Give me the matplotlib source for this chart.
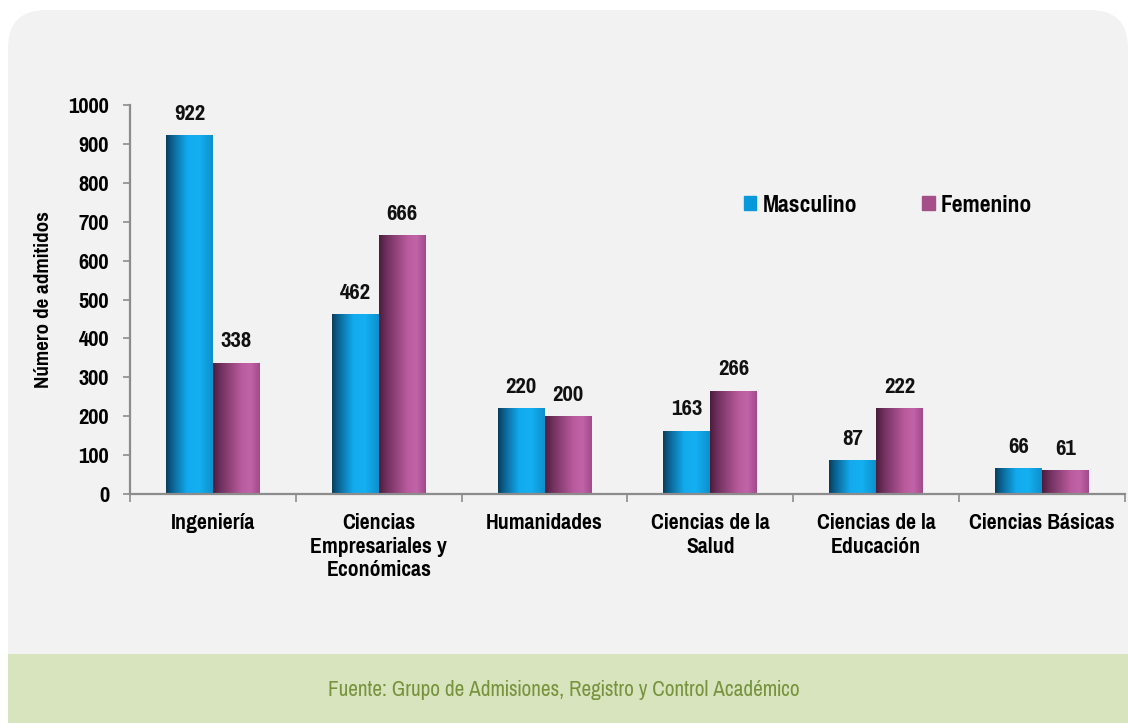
import matplotlib
matplotlib.use("Agg")
import matplotlib.pyplot as plt
import numpy as np
from matplotlib.patches import FancyBboxPatch, Rectangle, Patch
from matplotlib.colors import LinearSegmentedColormap
from matplotlib import font_manager

names = {f.name for f in font_manager.fontManager.ttflist}
FONT = 'Liberation Sans'
for cand in ('Pragati Narrow', 'PT Sans Narrow', 'Liberation Sans Narrow'):
    if cand in names:
        FONT = cand
        break
plt.rcParams['font.family'] = [FONT, 'DejaVu Sans']

categories = ["Ingeniería", "Ciencias\nEmpresariales y\nEconómicas", "Humanidades",
              "Ciencias de la\nSalud", "Ciencias de la\nEducación", "Ciencias Básicas"]
masculino = [922, 462, 220, 163, 87, 66]
femenino = [338, 666, 200, 266, 222, 61]
yticks = [0, 100, 200, 300, 400, 500, 600, 700, 800, 900, 1000]
ylabel = "Número de admitidos"
source = "Fuente: Grupo de Admisiones, Registro y Control Académico"

W, H = 1128, 723
fig = plt.figure(figsize=(W / 100, H / 100), dpi=100)
fig.patch.set_facecolor('white')

# background panels (figure pixel coords)
bg = fig.add_axes([0, 0, 1, 1])
bg.set_xlim(0, W); bg.set_ylim(H, 0); bg.axis('off')
bg.add_patch(FancyBboxPatch((8, 10), W - 8, 700, boxstyle="round,pad=0,rounding_size=38",
                            fc='#f2f2f2', ec='none'))
bg.add_patch(Rectangle((8, 654), W - 8, H - 654, fc='#d8e4bd', ec='none'))
bg.text(564, 690, source, ha='center', va='center', fontsize=16.6, color='#77933c')

# main axes
left, right, top, bottom = 130, 1125, 105, 494
ax = fig.add_axes([left / W, (H - bottom) / H, (right - left) / W, (bottom - top) / H])
ax.set_facecolor('none')
ax.set_xlim(-0.5, len(categories) - 0.5)
ax.set_ylim(0, 1000)

x = np.arange(len(categories))
bw = 0.283
b1 = ax.bar(x - bw / 2, masculino, bw, color='#0e96d4', zorder=2)
b2 = ax.bar(x + bw / 2, femenino, bw, color='#a84c90', zorder=2)

blue_cmap = LinearSegmentedColormap.from_list('b', [(0, '#0a3d5a'), (0.12, '#0b5f8c'), (0.45, '#12aaee'),
                                                    (0.7, '#14b0f2'), (1, '#0d8fcc')])
mag_cmap = LinearSegmentedColormap.from_list('m', [(0, '#4a1c3a'), (0.15, '#6e2f5c'), (0.6, '#b85a9c'),
                                                   (0.8, '#c263a8'), (1, '#a24a8a')])
grad = np.linspace(0, 1, 256).reshape(1, -1)
for bars, cmap in ((b1, blue_cmap), (b2, mag_cmap)):
    for p in bars:
        x0, y0 = p.get_x(), p.get_y()
        w, h = p.get_width(), p.get_height()
        im = ax.imshow(grad, cmap=cmap, aspect='auto', extent=(x0, x0 + w, y0, y0 + h),
                       zorder=3, interpolation='bilinear')
        im.set_clip_path(p)

for bars, vals in ((b1, masculino), (b2, femenino)):
    for p, v in zip(bars, vals):
        ax.annotate(str(v), (p.get_x() + p.get_width() / 2, v), xytext=(0, 8),
                    textcoords='offset points', ha='center', va='bottom',
                    fontsize=17.8, fontweight='bold', color='#111111')

for s in ('top', 'right'):
    ax.spines[s].set_visible(False)
for s in ('left', 'bottom'):
    ax.spines[s].set_color('#8c8c8c')
    ax.spines[s].set_linewidth(1.6)
    ax.spines[s].set_zorder(4)

ax.set_yticks(yticks)
ax.set_yticklabels([str(t) for t in yticks], fontsize=17.6, fontweight='bold')
ax.tick_params(axis='y', length=5, width=1.2, color='#8c8c8c', pad=10)

ax.set_xticks(x)
ax.set_xticklabels(categories, fontsize=17, fontweight='bold', linespacing=1.22, va='top')
ax.tick_params(axis='x', which='major', length=0, pad=14)
ax.set_xticks(np.arange(-0.5, len(categories), 1.0), minor=True)
ax.tick_params(axis='x', which='minor', length=6, width=1.2, color='#8c8c8c', direction='out')

ax.set_ylabel(ylabel, fontsize=16.5, fontweight='bold')
ax.yaxis.set_label_coords(-0.0775, 0.5)

handles = [Patch(color='#0898dc', label='Masculino'), Patch(color='#a44f89', label='Femenino')]
ax.legend(handles=handles, loc='center left', bbox_to_anchor=(0.617, 0.742), ncol=2, frameon=False,
          handlelength=0.47, handleheight=0.47, handletextpad=0.25, columnspacing=2.55,
          borderaxespad=0, borderpad=0,
          prop={'size': 18.5, 'weight': 'bold', 'family': [FONT, 'DejaVu Sans']})

fig.savefig('out.png', dpi=100, facecolor='white')
